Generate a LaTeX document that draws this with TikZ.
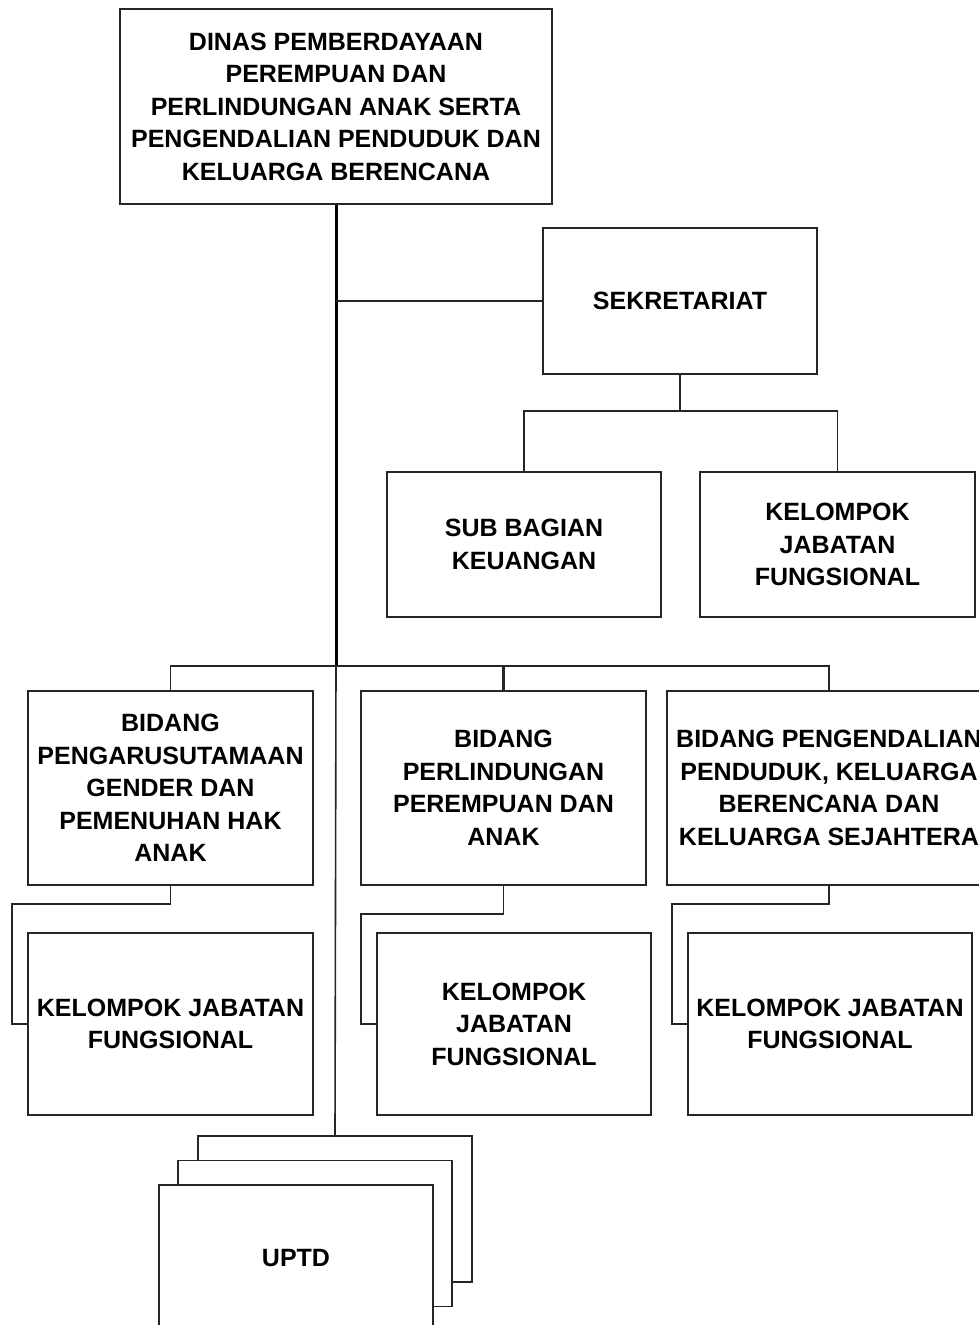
\documentclass[tikz,border=0pt]{standalone}
\usepackage{fontspec}
\setmainfont{Liberation Sans}
\usetikzlibrary{calc}
\begin{document}
\begin{tikzpicture}[x=1pt,y=-1pt,
  orgbox/.style={draw=black!85, line width=1.7pt, fill=white, inner sep=0pt,
    align=center, font=\fontsize{25}{32.5}\selectfont\bfseries},
  link/.style={draw=black!85, line width=1.6pt},
  trunk/.style={draw=black, line width=3pt}]
\useasboundingbox (0,0) rectangle (979,1325);
\clip (0,0) rectangle (979,1325);
% nodes
\node[orgbox, minimum width=432pt, minimum height=195pt] (top) at (336,106.5)
  {DINAS PEMBERDAYAAN\\PEREMPUAN DAN\\PERLINDUNGAN ANAK SERTA\\PENGENDALIAN PENDUDUK DAN\\KELUARGA BERENCANA};
\node[orgbox, minimum width=274pt, minimum height=146pt] (sek) at (680,301) {SEKRETARIAT};
\node[orgbox, minimum width=274pt, minimum height=145pt] (sub) at (524,544.5) {SUB BAGIAN\\KEUANGAN};
\node[orgbox, minimum width=275pt, minimum height=145pt] (kel0) at (837.5,544.5) {KELOMPOK\\JABATAN\\FUNGSIONAL};
\node[orgbox, minimum width=285pt, minimum height=194pt] (b1) at (170.5,788)
  {BIDANG\\PENGARUSUTAMAAN\\GENDER DAN\\PEMENUHAN HAK\\ANAK};
\node[orgbox, minimum width=285pt, minimum height=194pt] (b2) at (503.5,788)
  {BIDANG\\PERLINDUNGAN\\PEREMPUAN DAN\\ANAK};
\node[orgbox, minimum width=324pt, minimum height=194pt] (b3) at (829,788)
  {BIDANG PENGENDALIAN\\PENDUDUK, KELUARGA\\BERENCANA DAN\\KELUARGA SEJAHTERA};
\node[orgbox, minimum width=285pt, minimum height=182pt] (k1) at (170.5,1024) {KELOMPOK JABATAN\\FUNGSIONAL};
\node[orgbox, minimum width=274pt, minimum height=182pt] (k2) at (514,1024) {KELOMPOK\\JABATAN\\FUNGSIONAL};
\node[orgbox, minimum width=284pt, minimum height=182pt] (k3) at (830,1024) {KELOMPOK JABATAN\\FUNGSIONAL};
% UPTD stack
\node[orgbox, minimum width=274pt, minimum height=146pt] (uback) at (335,1209) {};
\node[orgbox, minimum width=274pt, minimum height=146pt] (umid) at (315,1233.5) {};
\node[orgbox, minimum width=274pt, minimum height=146pt] (ufront) at (296,1258) {UPTD};
% connectors
\coordinate (bus) at (336,666);
\draw[trunk] (top.south) -- (bus);
\draw[link] (bus) -- (uback.north);
\draw[link, line width=1.4pt] (top.south |- sek.west) -- (sek.west);
\draw[link] (sek.south) -- ++(0,36) -| (sub.north);
\draw[link] (sek.south) -- ++(0,36) -| (kel0.north);
\draw[link] (bus) -| (b1.north);
\draw[link] (bus) -| (b3.north);
\draw[link, line width=2.2pt] (bus) -| (b2.north);
\draw[link] (b1.south) -- ++(0,18) -- ++(-158.5,0) |- (k1.west);
\draw[link] (b2.south) -- ++(0,28) -- ++(-142.5,0) |- (k2.west);
\draw[link] (b3.south) -- ++(0,18) -- ++(-157,0) |- (k3.west);
\end{tikzpicture}
\end{document}
